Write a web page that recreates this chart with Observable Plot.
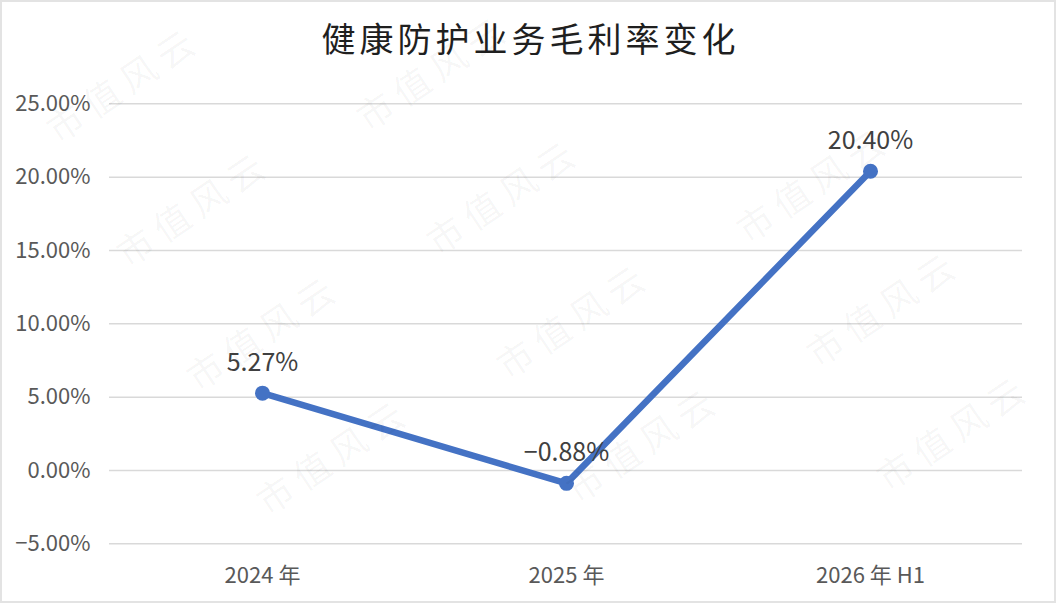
<!DOCTYPE html>
<html>
<head>
<meta charset="utf-8">
<script src="https://cdn.jsdelivr.net/npm/d3@7"></script>
<script src="https://cdn.jsdelivr.net/npm/@observablehq/plot@0.6"></script>
<style>
  html, body { margin: 0; padding: 0; background: #fff; }
  #wrap { position: relative; width: 1059px; height: 605px; overflow: hidden; background: #fff; }
  #border { position: absolute; left: 0; top: 0; width: 1052px; height: 599px; border: 2px solid #e3e3e3; pointer-events: none; }
  #title { position: absolute; left: 0; top: 17px; width: 1059px; text-align: center; font-family: "Noto Sans CJK SC", sans-serif; font-size: 34px; line-height: 42px; letter-spacing: 4px; color: #1f1f1f; padding-left: 2px; box-sizing: border-box; }
  #chart { position: absolute; left: 0; top: 70px; }
  #wm { position: absolute; left: 0; top: 0; pointer-events: none; }
</style>
</head>
<body>
<div id="wrap">
  <div id="title">健康防护业务毛利率变化</div>
  <div id="chart"></div>
  <svg id="wm" width="1059" height="605"></svg>
  <div id="border"></div>
</div>
<script>
// Data
const categories = ["2024 年", "2025 年", "2026 年 H1"];
const margins = [5.27, -0.88, 20.40];           // gross margin, %
const yTicks = [-5, 0, 5, 10, 15, 20, 25];
const title = "健康防护业务毛利率变化";
const watermarkText = "市值风云";

const data = categories.map((c, i) => ({ cat: c, v: margins[i] }));
const fmt = v => (v < 0 ? "\u2212" : "") + Math.abs(v).toFixed(2) + "%";

const chart = Plot.plot({
  width: 1059,
  height: 530,
  marginTop: 33.3,
  marginBottom: 56.7,
  marginLeft: 109,
  marginRight: 37,
  style: { fontFamily: "'Noto Sans CJK SC', sans-serif", background: "transparent", overflow: "visible" },
  x: { type: "point", domain: categories, padding: 0.5, label: null },
  y: { domain: [-5, 25], label: null },
  marks: [
    Plot.gridY(yTicks, { stroke: "#d9d9d9", strokeOpacity: 1, strokeWidth: 1.5 }),
    Plot.axisY(yTicks, { tickSize: 0, tickPadding: 19, tickFormat: fmt, fontSize: 22, fill: "#595959", label: null }),
    Plot.axisX({ tickSize: 0, tickPadding: 24, fontSize: 22, fill: "#595959", label: null }),
    Plot.line(data, { x: "cat", y: "v", stroke: "#4472C4", strokeWidth: 6.5, strokeLinecap: "round", strokeLinejoin: "round" }),
    Plot.dot(data, { x: "cat", y: "v", r: 7.5, fill: "#4472C4", stroke: "none" }),
    Plot.text(data, { x: "cat", y: "v", text: d => fmt(d.v), dy: -30, fontSize: 25, fill: "#404040", lineAnchor: "middle" })
  ]
});
document.getElementById("chart").appendChild(chart);

// Watermark overlay (decorative), only copies that fit fully inside the picture
const wm = d3.select("#wm");
const o = [122, 82], a = [70, 124], b = [310, -12];
for (let i = -3; i <= 6; i++) {
  for (let j = -2; j <= 5; j++) {
    const cx = o[0] + i * a[0] + j * b[0];
    const cy = o[1] + i * a[1] + j * b[1];
    if (cx - 84 < 3 || cx + 84 > 1053 || cy - 62 < 3 || cy + 62 > 600) continue;
    wm.append("text")
      .attr("transform", `translate(${cx},${cy}) rotate(-34)`)
      .attr("text-anchor", "middle")
      .attr("dominant-baseline", "central")
      .attr("font-family", "'Noto Sans CJK SC', sans-serif")
      .attr("font-size", 36)
      .attr("letter-spacing", 8)
      .attr("fill", "rgba(0,0,0,0.045)")
      .text(watermarkText);
  }
}
</script>
</body>
</html>
